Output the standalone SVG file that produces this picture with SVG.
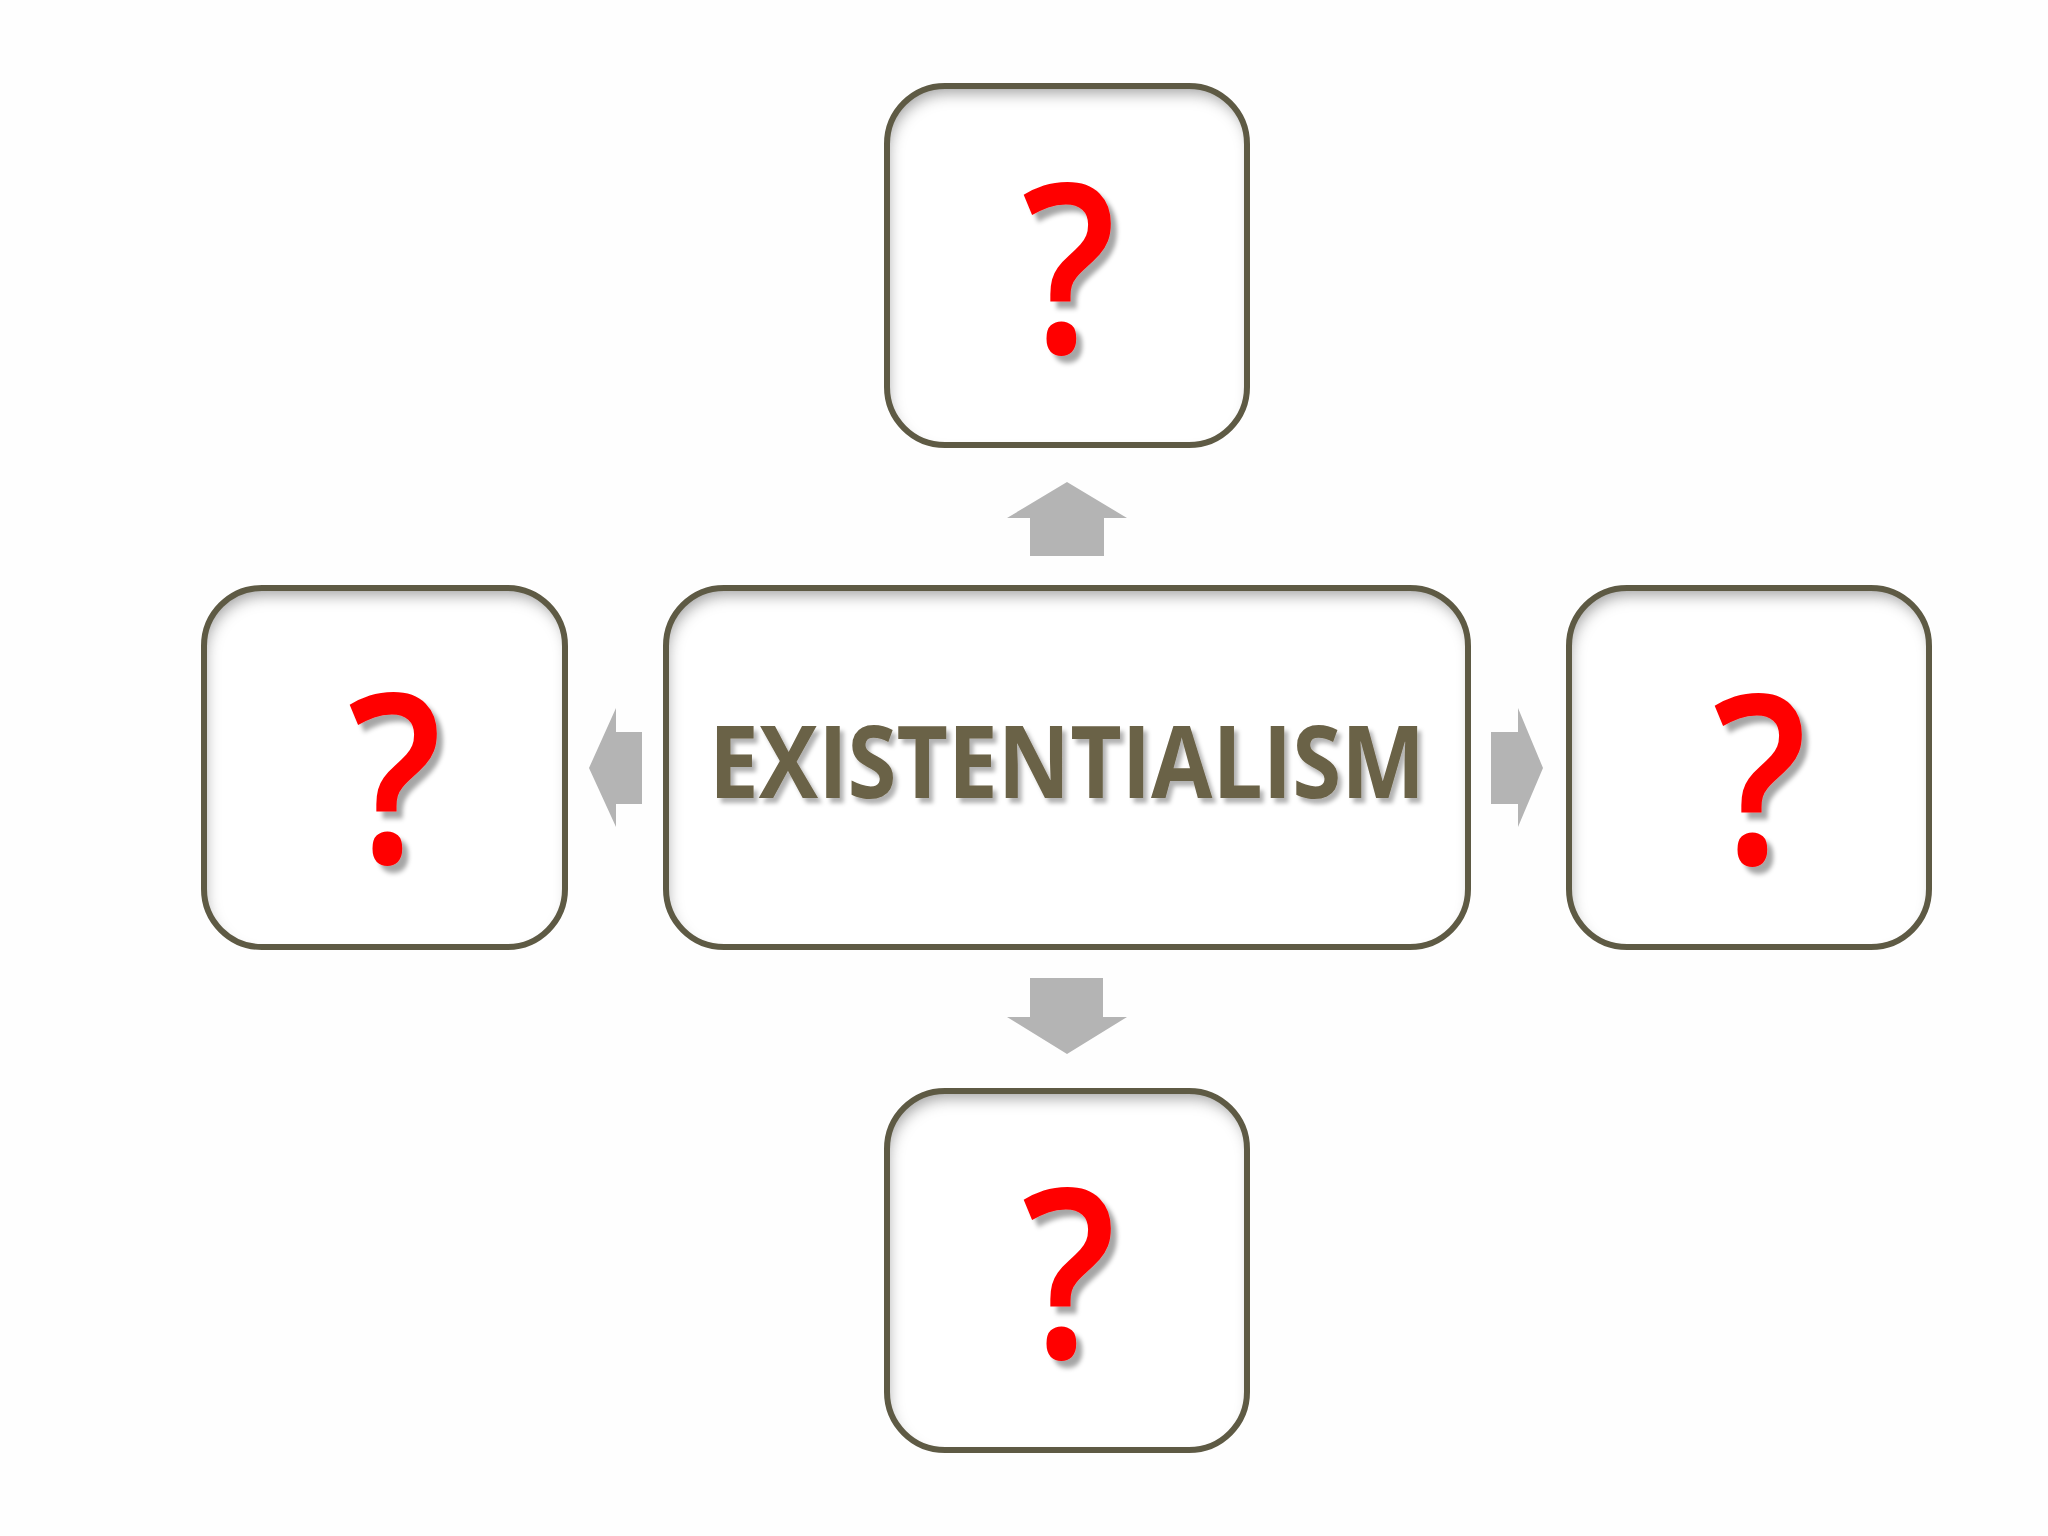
<svg xmlns="http://www.w3.org/2000/svg" width="2048" height="1536" viewBox="0 0 2048 1536">
<defs>
<style>
.box-fill{fill:#ffffff;filter:url(#inner);}
.box-line{fill:none;stroke:#5e5a44;stroke-width:6;}
.q{font-family:"Open Sans","Noto Sans",sans-serif;font-weight:600;font-size:236px;fill:#ff0000;text-anchor:middle;filter:url(#qshadow);}
.title{font-family:"Open Sans","Noto Sans",sans-serif;font-weight:700;font-size:100px;fill:#6b6247;filter:url(#tshadow);}
.arrow{fill:#b4b4b4;}
</style>
<filter id="inner" x="-15%" y="-15%" width="130%" height="130%">
<feComponentTransfer in="SourceAlpha"><feFuncA type="table" tableValues="1 0"/></feComponentTransfer>
<feGaussianBlur stdDeviation="7"/>
<feOffset dx="3" dy="9" result="off"/>
<feFlood flood-color="#7a7a7a" flood-opacity="0.75"/>
<feComposite operator="in" in2="off"/>
<feComposite operator="in" in2="SourceAlpha" result="inshadow"/>
<feMerge><feMergeNode in="SourceGraphic"/><feMergeNode in="inshadow"/></feMerge>
</filter>
<filter id="qshadow" x="-20%" y="-20%" width="150%" height="150%">
<feDropShadow dx="7" dy="7" stdDeviation="2.5" flood-color="#000000" flood-opacity="0.35"/>
</filter>
<filter id="tshadow" x="-5%" y="-20%" width="110%" height="150%">
<feDropShadow dx="4" dy="5" stdDeviation="2" flood-color="#000000" flood-opacity="0.3"/>
</filter>
</defs>
<rect x="0" y="0" width="2048" height="1536" fill="#fefefe"/>

<g id="connectors">
<polygon class="arrow" points="1067,482 1127,518 1104,518 1104,556 1030,556 1030,518 1007,518"/>
<polygon class="arrow" points="1067,1054 1127,1017 1103,1017 1103,978 1030,978 1030,1017 1007,1017"/>
<polygon class="arrow" points="589,768 616,708 616,732 642,732 642,804 616,804 616,827"/>
<polygon class="arrow" points="1543,768 1518,708 1518,732 1491,732 1491,804 1518,804 1518,827"/>
</g>

<g id="node-center">
<rect class="box-fill" x="666" y="588" width="802" height="359" rx="58" ry="58"/>
<rect class="box-line" x="666" y="588" width="802" height="359" rx="58" ry="58"/>
<text class="title" x="709" y="798" textLength="716" lengthAdjust="spacingAndGlyphs">EXISTENTIALISM</text>
</g>

<g id="node-top">
<rect class="box-fill" x="887" y="86" width="360" height="359" rx="58" ry="58"/>
<rect class="box-line" x="887" y="86" width="360" height="359" rx="58" ry="58"/>
<text class="q" transform="translate(1069,353) scale(0.88,1)">?</text>
</g>

<g id="node-left">
<rect class="box-fill" x="204" y="588" width="361" height="359" rx="58" ry="58"/>
<rect class="box-line" x="204" y="588" width="361" height="359" rx="58" ry="58"/>
<text class="q" transform="translate(395,863) scale(0.88,1)">?</text>
</g>

<g id="node-right">
<rect class="box-fill" x="1569" y="588" width="360" height="359" rx="58" ry="58"/>
<rect class="box-line" x="1569" y="588" width="360" height="359" rx="58" ry="58"/>
<text class="q" transform="translate(1760,864) scale(0.88,1)">?</text>
</g>

<g id="node-bottom">
<rect class="box-fill" x="887" y="1091" width="360" height="359" rx="58" ry="58"/>
<rect class="box-line" x="887" y="1091" width="360" height="359" rx="58" ry="58"/>
<text class="q" transform="translate(1069,1358) scale(0.88,1)">?</text>
</g>
</svg>
